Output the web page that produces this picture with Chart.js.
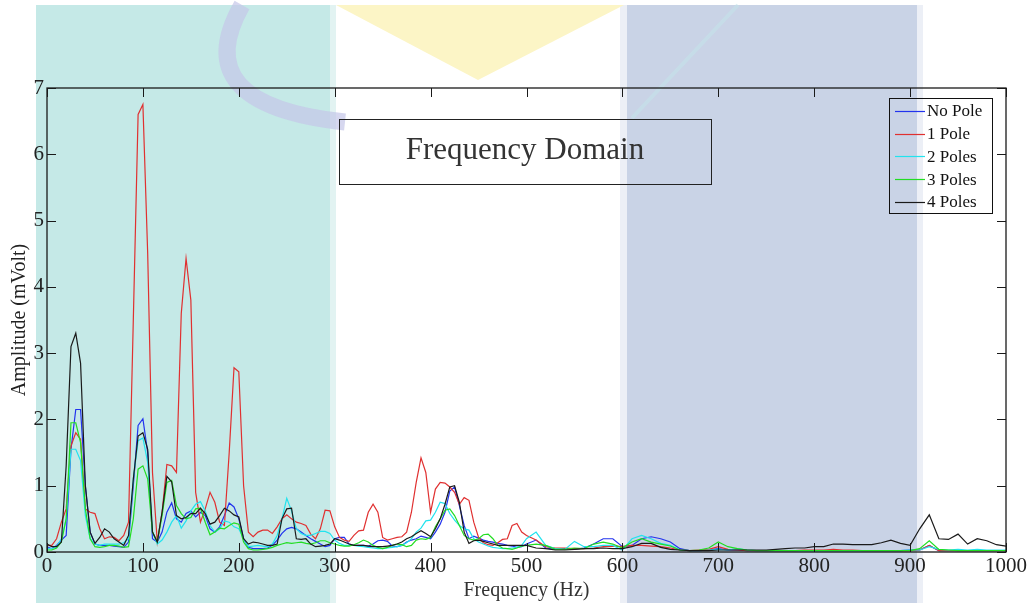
<!DOCTYPE html>
<html>
<head>
<meta charset="utf-8">
<script src="https://cdn.jsdelivr.net/npm/chart.js@4/dist/chart.umd.min.js"></script>
<style>
  html, body { margin: 0; padding: 0; background: #fff; }
  #wrap { position: relative; width: 1035px; height: 603px; }
</style>
</head>
<body>
<div id="wrap"><canvas id="spectrum" width="1035" height="603"></canvas></div>
<script>
// frequency axis (Hz)
const freq = [
  0, 5, 10, 15, 20, 25, 30, 35, 40, 45,
  50, 55, 60, 65, 70, 75, 80, 85, 90, 95,
  100, 105, 110, 115, 120, 125, 130, 135, 140, 145,
  150, 155, 160, 165, 170, 175, 180, 185, 190, 195,
  200, 205, 210, 215, 220, 225, 230, 235, 240, 245,
  250, 255, 260, 265, 270, 275, 280, 285, 290, 295,
  300, 305, 310, 315, 320, 325, 330, 335, 340, 345,
  350, 355, 360, 365, 370, 375, 380, 385, 390, 395,
  400, 405, 410, 415, 420, 425, 430, 435, 440, 445,
  450, 455, 460, 465, 470, 475, 480, 485, 490, 495,
  500,
  510, 520, 530, 540, 550, 560, 570, 580, 590, 600,
  610, 620, 630, 640, 650, 660, 670, 680, 690, 700,
  710, 720, 730, 740, 750, 760, 770, 780, 790, 800,
  810, 820, 830, 840, 850, 860, 870, 880, 890, 900,
  910, 920, 930, 940, 950, 960, 970, 980, 990, 1000
];

const noPole = [
  0.08, 0.05, 0.10, 0.18, 0.25, 1.55, 2.15, 2.15, 1.00, 0.30,
  0.12, 0.10, 0.10, 0.10, 0.09, 0.08, 0.07, 0.15, 1.00, 1.91,
  2.01, 1.50, 0.20, 0.15, 0.30, 0.60, 0.74, 0.50, 0.45, 0.58,
  0.62, 0.53, 0.60, 0.55, 0.35, 0.30, 0.38, 0.55, 0.74, 0.68,
  0.50, 0.20, 0.07, 0.05, 0.05, 0.05, 0.06, 0.10, 0.18, 0.28,
  0.35, 0.37, 0.35, 0.30, 0.25, 0.20, 0.16, 0.12, 0.08, 0.10,
  0.20, 0.22, 0.22, 0.12, 0.10, 0.10, 0.10, 0.09, 0.12, 0.17,
  0.18, 0.16, 0.09, 0.08, 0.10, 0.15, 0.18, 0.20, 0.24, 0.22,
  0.20, 0.30, 0.42, 0.60, 0.92, 0.98, 0.70, 0.40, 0.20, 0.24,
  0.21, 0.18, 0.16, 0.15, 0.13, 0.12, 0.10, 0.09, 0.07, 0.08,
  0.12,
  0.18, 0.06, 0.04, 0.05, 0.04, 0.06, 0.12, 0.20, 0.20, 0.08,
  0.10, 0.20, 0.23, 0.20, 0.15, 0.05, 0.02, 0.02, 0.03, 0.05,
  0.03, 0.03, 0.02, 0.02, 0.02, 0.02, 0.02, 0.02, 0.02, 0.02,
  0.02, 0.02, 0.02, 0.02, 0.02, 0.02, 0.02, 0.02, 0.02, 0.03,
  0.03, 0.10, 0.02, 0.02, 0.02, 0.02, 0.02, 0.02, 0.02, 0.02
];

const onePole = [
  0.10, 0.10, 0.20, 0.45, 0.65, 1.60, 1.80, 1.70, 0.65, 0.60,
  0.58, 0.35, 0.20, 0.23, 0.22, 0.17, 0.25, 0.45, 3.50, 6.60,
  6.75, 4.50, 1.20, 0.15, 0.60, 1.32, 1.30, 1.20, 3.60, 4.43,
  3.80, 0.90, 0.45, 0.65, 0.90, 0.75, 0.45, 0.40, 1.50, 2.78,
  2.72, 1.00, 0.30, 0.23, 0.30, 0.33, 0.33, 0.28, 0.38, 0.50,
  0.56, 0.50, 0.45, 0.43, 0.40, 0.27, 0.20, 0.35, 0.63, 0.62,
  0.38, 0.22, 0.18, 0.16, 0.25, 0.32, 0.33, 0.60, 0.72, 0.60,
  0.22, 0.18, 0.20, 0.22, 0.23, 0.30, 0.60, 1.05, 1.42, 1.20,
  0.60, 0.95, 1.05, 1.04, 0.98, 0.90, 0.72, 0.82, 0.78, 0.45,
  0.22, 0.14, 0.11, 0.10, 0.14, 0.19, 0.20, 0.40, 0.43, 0.30,
  0.25,
  0.18, 0.08, 0.06, 0.06, 0.05, 0.05, 0.06, 0.08, 0.09, 0.08,
  0.10, 0.10, 0.09, 0.08, 0.06, 0.03, 0.02, 0.03, 0.04, 0.08,
  0.04, 0.03, 0.02, 0.02, 0.02, 0.02, 0.02, 0.02, 0.03, 0.03,
  0.03, 0.04, 0.03, 0.03, 0.02, 0.02, 0.02, 0.02, 0.02, 0.02,
  0.03, 0.10, 0.02, 0.02, 0.02, 0.02, 0.02, 0.02, 0.02, 0.02
];

const twoPoles = [
  0.05, 0.05, 0.08, 0.20, 0.50, 1.55, 1.55, 1.38, 0.55, 0.20,
  0.12, 0.10, 0.12, 0.12, 0.12, 0.12, 0.14, 0.20, 1.10, 1.68,
  1.72, 1.35, 0.30, 0.12, 0.18, 0.30, 0.45, 0.55, 0.36, 0.47,
  0.62, 0.72, 0.76, 0.62, 0.40, 0.30, 0.35, 0.47, 0.45, 0.38,
  0.35, 0.20, 0.08, 0.09, 0.10, 0.09, 0.08, 0.12, 0.25, 0.50,
  0.81, 0.62, 0.35, 0.28, 0.25, 0.25, 0.28, 0.31, 0.31, 0.28,
  0.18, 0.13, 0.10, 0.10, 0.10, 0.09, 0.08, 0.07, 0.06, 0.05,
  0.05, 0.06, 0.07, 0.08, 0.10, 0.14, 0.20, 0.30, 0.36, 0.47,
  0.48, 0.60, 0.75, 0.73, 0.58, 0.48, 0.40, 0.35, 0.33, 0.20,
  0.15, 0.12, 0.09, 0.07, 0.06, 0.05, 0.05, 0.06, 0.07, 0.10,
  0.20,
  0.30, 0.10, 0.05, 0.04, 0.16, 0.08, 0.08, 0.10, 0.10, 0.03,
  0.20, 0.25, 0.20, 0.13, 0.10, 0.03, 0.02, 0.02, 0.03, 0.04,
  0.03, 0.05, 0.03, 0.02, 0.02, 0.02, 0.02, 0.02, 0.02, 0.02,
  0.02, 0.02, 0.02, 0.02, 0.02, 0.02, 0.02, 0.02, 0.02, 0.03,
  0.03, 0.08, 0.04, 0.03, 0.04, 0.03, 0.04, 0.03, 0.03, 0.03
];

const threePoles = [
  0.03, 0.03, 0.06, 0.15, 0.50, 1.95, 1.95, 1.65, 0.65, 0.20,
  0.08, 0.07, 0.08, 0.10, 0.10, 0.09, 0.07, 0.08, 0.50, 1.25,
  1.30, 1.10, 0.30, 0.15, 0.55, 1.05, 1.08, 0.70, 0.58, 0.50,
  0.52, 0.65, 0.66, 0.45, 0.26, 0.30, 0.36, 0.35, 0.40, 0.44,
  0.42, 0.15, 0.05, 0.03, 0.03, 0.04, 0.05, 0.07, 0.10, 0.12,
  0.14, 0.13, 0.14, 0.15, 0.13, 0.12, 0.14, 0.17, 0.17, 0.14,
  0.12, 0.10, 0.09, 0.09, 0.11, 0.14, 0.18, 0.15, 0.10, 0.07,
  0.05, 0.07, 0.10, 0.12, 0.11, 0.08, 0.10, 0.18, 0.20, 0.19,
  0.22, 0.38, 0.50, 0.63, 0.65, 0.55, 0.40, 0.25, 0.20, 0.18,
  0.20, 0.26, 0.27, 0.20, 0.10, 0.06, 0.05, 0.04, 0.06, 0.09,
  0.10,
  0.12, 0.10, 0.04, 0.04, 0.06, 0.05, 0.12, 0.15, 0.12, 0.06,
  0.15, 0.20, 0.15, 0.12, 0.09, 0.03, 0.02, 0.03, 0.06, 0.15,
  0.08, 0.05, 0.03, 0.02, 0.02, 0.02, 0.02, 0.02, 0.02, 0.02,
  0.02, 0.02, 0.02, 0.02, 0.02, 0.02, 0.02, 0.02, 0.02, 0.02,
  0.05, 0.17, 0.04, 0.03, 0.02, 0.02, 0.02, 0.02, 0.02, 0.02
];

const fourPoles = [
  0.12, 0.08, 0.08, 0.15, 1.30, 3.10, 3.30, 2.85, 1.00, 0.30,
  0.13, 0.22, 0.35, 0.30, 0.20, 0.15, 0.10, 0.25, 1.10, 1.75,
  1.80, 1.55, 0.30, 0.15, 0.60, 1.14, 1.06, 0.55, 0.50, 0.52,
  0.58, 0.58, 0.66, 0.58, 0.42, 0.45, 0.55, 0.66, 0.62, 0.56,
  0.53, 0.20, 0.12, 0.15, 0.14, 0.12, 0.10, 0.10, 0.12, 0.50,
  0.65, 0.66, 0.20, 0.19, 0.20, 0.12, 0.08, 0.09, 0.10, 0.12,
  0.20, 0.18, 0.15, 0.12, 0.10, 0.10, 0.10, 0.09, 0.08, 0.08,
  0.08, 0.09, 0.10, 0.12, 0.15, 0.20, 0.23, 0.28, 0.32, 0.28,
  0.23, 0.35, 0.50, 0.72, 0.98, 1.00, 0.75, 0.30, 0.13, 0.17,
  0.18, 0.16, 0.14, 0.12, 0.10, 0.10, 0.10, 0.10, 0.10, 0.10,
  0.10,
  0.06, 0.05, 0.03, 0.03, 0.04, 0.05, 0.05, 0.06, 0.05, 0.05,
  0.08, 0.13, 0.13, 0.07, 0.04, 0.03, 0.02, 0.02, 0.02, 0.03,
  0.03, 0.03, 0.03, 0.03, 0.03, 0.04, 0.05, 0.06, 0.06, 0.08,
  0.08, 0.12, 0.12, 0.11, 0.11, 0.11, 0.14, 0.18, 0.13, 0.10,
  0.35, 0.56, 0.20, 0.19, 0.27, 0.12, 0.20, 0.17, 0.11, 0.09
];

const seriesNames = ["No Pole", "1 Pole", "2 Poles", "3 Poles", "4 Poles"];
const seriesColors = ["#2233ee", "#e03030", "#22e3ee", "#22dd22", "#1a1a1a"];
const seriesValues = [noPole, onePole, twoPoles, threePoles, fourPoles];

const xTicks = [0, 100, 200, 300, 400, 500, 600, 700, 800, 900, 1000];
const yTicks = [0, 1, 2, 3, 4, 5, 6, 7];

const serif = "'Liberation Serif', 'Times New Roman', serif";

// faint watermark behind the plot
const watermark = {
    id: "watermark",
    beforeDraw(chart) {
        const c = chart.ctx;
        c.save();
        c.fillStyle = "#ffffff";
        c.fillRect(0, 0, chart.width, chart.height);

        c.fillStyle = "#c5e9e7";
        c.fillRect(36, 5, 294, 598);
        c.fillStyle = "#e2f3f2";
        c.fillRect(330, 5, 6, 598);

        c.fillStyle = "#eceff6";
        c.fillRect(620, 5, 303, 598);
        c.fillStyle = "#c9d3e6";
        c.fillRect(627, 5, 290, 598);

        c.fillStyle = "#fcf5c6";
        c.beginPath();
        c.moveTo(336, 5);
        c.lineTo(624, 5);
        c.lineTo(478, 80);
        c.closePath();
        c.fill();

        c.strokeStyle = "rgba(196, 198, 232, 0.7)";
        c.lineWidth = 17;
        c.lineCap = "butt";
        c.beginPath();
        c.moveTo(242, 5);
        c.quadraticCurveTo(185, 105, 345, 122);
        c.stroke();

        c.strokeStyle = "rgba(196, 226, 234, 0.6)";
        c.lineWidth = 4;
        c.beginPath();
        c.moveTo(738, 5);
        c.lineTo(632, 118);
        c.stroke();
        c.restore();
    }
};

// box frame, inward ticks, title box and legend
const frame = {
    id: "frame",
    afterDatasetsDraw(chart) {
        const c = chart.ctx;
        const a = chart.chartArea;
        const xs = chart.scales.x, ys = chart.scales.y;
        const tick = 9;
        c.save();
        c.strokeStyle = "#1a1a1a";
        c.lineWidth = 1.3;
        c.strokeRect(a.left, a.top, a.right - a.left, a.bottom - a.top);
        c.lineWidth = 1;
        c.beginPath();
        xTicks.forEach(v => {
            const px = Math.round(xs.getPixelForValue(v)) + 0.5;
            c.moveTo(px, a.bottom); c.lineTo(px, a.bottom - tick);
            c.moveTo(px, a.top); c.lineTo(px, a.top + tick);
        });
        yTicks.forEach(v => {
            const py = Math.round(ys.getPixelForValue(v)) + 0.5;
            c.moveTo(a.left, py); c.lineTo(a.left + tick, py);
            c.moveTo(a.right, py); c.lineTo(a.right - tick, py);
        });
        c.stroke();

        // title box
        c.strokeStyle = "#222";
        c.lineWidth = 1;
        c.strokeRect(339.5, 119.5, 372, 65);
        c.fillStyle = "#333";
        c.font = "31px " + serif;
        c.textAlign = "center";
        c.textBaseline = "middle";
        c.fillText("Frequency Domain", 525, 151);

        // legend
        c.strokeStyle = "#111";
        c.strokeRect(889.5, 98.5, 103, 115);
        c.font = "17px " + serif;
        c.textAlign = "left";
        chart.data.datasets.forEach((ds, i) => {
            const y = 111 + i * 22.7;
            c.strokeStyle = ds.borderColor;
            c.lineWidth = 1.2;
            c.beginPath();
            c.moveTo(895, Math.round(y) + 0.5);
            c.lineTo(925, Math.round(y) + 0.5);
            c.stroke();
            c.fillStyle = "#111";
            c.fillText(ds.label, 927, y + 1);
        });
        c.restore();
    }
};

const datasets = seriesNames.map((name, i) => ({
    label: name,
    data: freq.map((f, k) => ({ x: f, y: seriesValues[i][k] })),
    borderColor: seriesColors[i],
    borderWidth: 1.2,
    pointRadius: 0,
    tension: 0,
    fill: false,
    order: seriesNames.length - 1 - i
}));

new Chart(document.getElementById("spectrum").getContext("2d"), {
    type: "line",
    data: { datasets },
    options: {
        responsive: false,
        animation: false,
        layout: { padding: { left: 0, top: 88, right: 29, bottom: 0 } },
        plugins: { legend: { display: false }, tooltip: { enabled: false } },
        scales: {
            x: {
                type: "linear",
                min: 0, max: 1000,
                afterBuildTicks: scale => { scale.ticks = xTicks.map(v => ({ value: v })); },
                afterFit: scale => { scale.height = 51; },
                grid: { display: false, drawTicks: false },
                border: { display: false },
                ticks: {
                    color: "#222", font: { family: serif, size: 21 }, padding: 2, maxRotation: 0,
                    callback: v => String(v)
                },
                title: {
                    display: true, text: "Frequency (Hz)", color: "#333",
                    font: { family: serif, size: 20 }, padding: { top: 0, bottom: 0 }
                }
            },
            y: {
                min: 0, max: 7,
                afterBuildTicks: scale => { scale.ticks = yTicks.map(v => ({ value: v })); },
                afterFit: scale => { scale.width = 47; },
                grid: { display: false, drawTicks: false },
                border: { display: false },
                ticks: {
                    color: "#222", font: { family: serif, size: 21 }, padding: 3,
                    callback: v => String(v)
                },
                title: {
                    display: true, text: "Amplitude (mVolt)", color: "#222",
                    font: { family: serif, size: 20 }, padding: { top: 8, bottom: 0 }
                }
            }
        }
    },
    plugins: [watermark, frame]
});
</script>
</body>
</html>
